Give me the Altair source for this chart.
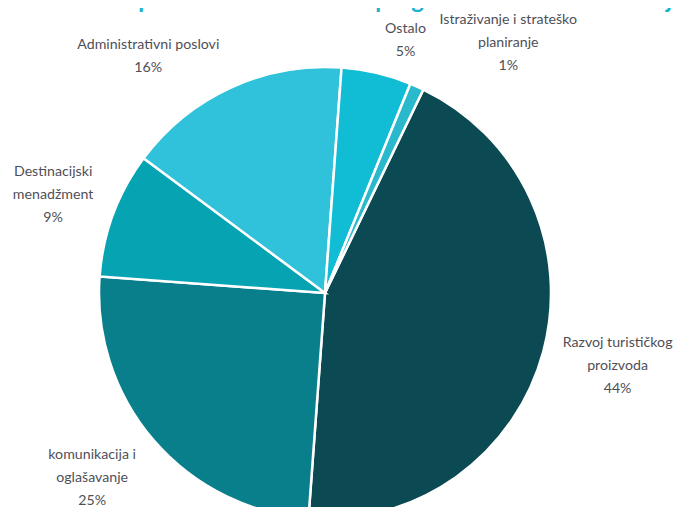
import altair as alt
import pandas as pd
import math

# ---- data ----
categories = [
    "Razvoj turističkog proizvoda",
    "komunikacija i oglašavanje",
    "Destinacijski menadžment",
    "Administrativni poslovi",
    "Ostalo",
    "Istraživanje i strateško planiranje",
]
label_lines = [
    ["Razvoj turističkog", "proizvoda"],
    ["komunikacija i", "oglašavanje"],
    ["Destinacijski", "menadžment"],
    ["Administrativni poslovi"],
    ["Ostalo"],
    ["Istraživanje i strateško", "planiranje"],
]
values = [44, 25, 9, 16, 5, 1]
colors = ["#0b4a52", "#0a7f8c", "#06a3b3", "#30c2da", "#10bdd4", "#2ab8cc"]

title_text = "Struktura rashoda prema aktivnostima u programu rada turističke zajednice"

df = pd.DataFrame({
    "category": categories,
    "value": values,
    "idx": list(range(len(categories))),
    "label": [lines + [f"{v}%"] for lines, v in zip(label_lines, values)],
})

W, H = 668, 499
CX, CY = 317, 285
R = 226
start = math.radians(25.8)
LH = 23

theta_scale = alt.Scale(domain=[0, 100], range=[start, start + 2 * math.pi])
color_scale = alt.Scale(domain=categories, range=colors)

base = alt.Chart(df).transform_window(
    cum_end="sum(value)", sort=[alt.SortField("idx")], frame=[None, 0]
).transform_calculate(
    cum_start="datum.cum_end - datum.value",
    mid="datum.cum_end - datum.value / 2",
)

pie = base.mark_arc(radius=R, stroke="white", strokeWidth=2.5).encode(
    theta=alt.Theta("cum_start:Q", scale=theta_scale),
    theta2="cum_end:Q",
    color=alt.Color("category:N", scale=color_scale, legend=None),
    x=alt.value(CX),
    y=alt.value(CY),
)

# label placement styles: (radius, dx, dy) for block centre
label_styles = [
    (306, -3, -6),
    (301, -5, -12),
    (289, -1, 3),
    (290, -56, 27),
    (265, 20, 5),
    (303, 60, 27),
]

layers = [pie]
for cat, lines, (lr, ldx, ldy) in zip(categories, label_lines, label_styles):
    n = len(lines) + 1
    layers.append(
        base.transform_filter(alt.datum.category == cat).mark_text(
            radius=lr, dx=ldx, dy=ldy - (n - 1) / 2 * LH, font="Lato", fontSize=14.2,
            color="#4f4f57", lineHeight=LH, align="center", baseline="middle",
        ).encode(
            theta=alt.Theta("mid:Q", scale=theta_scale),
            text="label",
            x=alt.value(CX),
            y=alt.value(CY),
        )
    )

chart = alt.layer(*layers).properties(
    width=W, height=H, padding=0, autosize=alt.AutoSizeParams(type="none"),
    title=alt.Title(title_text, fontSize=24, fontWeight="bold", color="#1bb3cc",
                    font="Lato", anchor="middle", offset=0, dy=5),
).configure_view(stroke=None)

chart.save("out.html", embed_options={"renderer": "svg", "actions": False})
